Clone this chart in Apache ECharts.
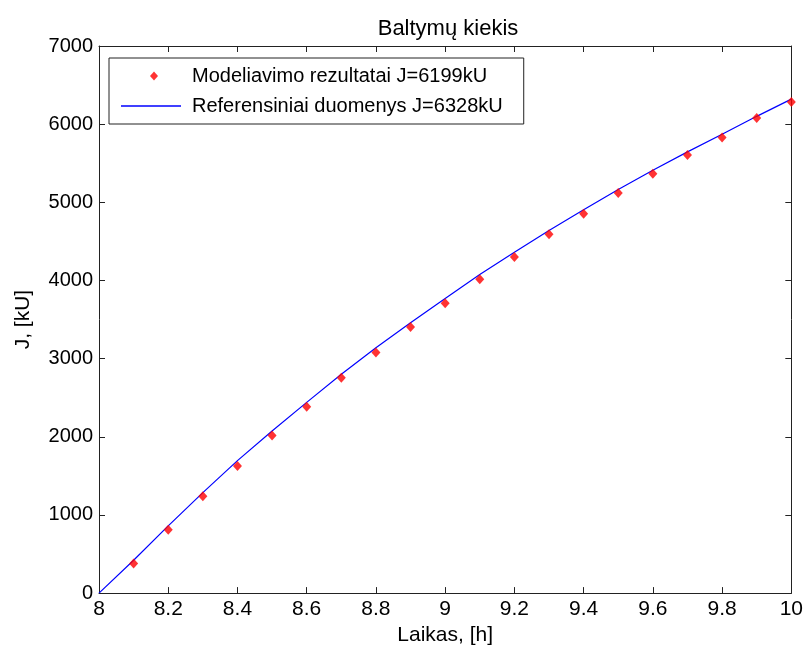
<!DOCTYPE html>
<html>
<head>
<meta charset="utf-8">
<script src="https://cdn.jsdelivr.net/npm/echarts@6/dist/echarts.min.js"></script>
<style>html,body{margin:0;padding:0;background:#fff}#c{width:806px;height:651px}</style>
</head>
<body>
<div id="c"></div>
<script>
// Data
const timeModel = [8.1, 8.2, 8.3, 8.4, 8.5, 8.6, 8.7, 8.8, 8.9, 9.0, 9.1, 9.2, 9.3, 9.4, 9.5, 9.6, 9.7, 9.8, 9.9, 10.0];
const modelValues = [380, 810, 1240, 1625, 2015, 2385, 2755, 3080, 3405, 3710, 4015, 4300, 4590, 4855, 5120, 5365, 5605, 5830, 6080, 6285];
const timeRef = [8.0, 8.1, 8.2, 8.3, 8.4, 8.5, 8.6, 8.7, 8.8, 8.9, 9.0, 9.1, 9.2, 9.3, 9.4, 9.5, 9.6, 9.7, 9.8, 9.9, 10.0];
const refValues = [0, 420, 860, 1285, 1695, 2075, 2440, 2800, 3140, 3460, 3770, 4075, 4360, 4640, 4905, 5165, 5410, 5645, 5870, 6100, 6320];
const xTicks = {min: 8, max: 10, interval: 0.2};
const yTicks = {min: 0, max: 7000, interval: 1000};
const nameModel = 'Modeliavimo rezultatai J=6199kU';
const nameRef = 'Referensiniai duomenys J=6328kU';

const font = 'Liberation Sans, Arial, sans-serif';
const fs = 21;
const chart = echarts.init(document.getElementById('c'), null, {renderer: 'canvas'});
const axisCommon = {
  axisLine: {show: true, onZero: false, lineStyle: {color: '#222', width: 1}},
  axisTick: {show: true, inside: true, length: 6, lineStyle: {color: '#222'}},
  splitLine: {show: false}
};
chart.setOption({
  animation: false,
  backgroundColor: '#fff',
  title: {
    text: 'Baltymų kiekis', left: 443, top: 13, textAlign: 'center',
    textStyle: {fontFamily: font, fontSize: 22, fontWeight: 'normal', color: '#000'}
  },
  grid: {left: 99, top: 46, right: 10, bottom: 56, containLabel: false},
  legend: {
    left: 109, top: 58, orient: 'vertical',
    backgroundColor: '#fff', borderColor: '#222', borderWidth: 1, borderRadius: 0,
    padding: [8, 21, 8, 12], itemGap: 10, itemWidth: 66, itemHeight: 9,
    symbolKeepAspect: true,
    textStyle: {fontFamily: font, fontSize: 20, color: '#000'},
    data: [
      {name: nameModel, icon: 'path://M4,0L8,4.5L4,9L0,4.5Z', itemStyle: {color: '#ff0000'}},
      {name: nameRef, icon: 'path://M0,0L60,0L60,1.3L0,1.3Z M66,0.6L66,0.6', itemStyle: {color: '#0000ff'}}
    ]
  },
  xAxis: [
    Object.assign({type: 'value', position: 'bottom', min: xTicks.min, max: xTicks.max, interval: xTicks.interval,
      name: 'Laikas, [h]', nameLocation: 'middle', nameGap: 27,
      nameTextStyle: {fontFamily: font, fontSize: fs, color: '#000'},
      axisLabel: {fontFamily: font, fontSize: fs, color: '#000', margin: 6,
        formatter: v => String(parseFloat(v.toFixed(1)))}}, axisCommon),
    Object.assign({type: 'value', position: 'top', min: xTicks.min, max: xTicks.max, interval: xTicks.interval,
      axisLabel: {show: false}}, axisCommon)
  ],
  yAxis: [
    Object.assign({type: 'value', position: 'left', min: yTicks.min, max: yTicks.max, interval: yTicks.interval,
      name: 'J, [kU]', nameLocation: 'middle', nameGap: 65,
      nameTextStyle: {fontFamily: font, fontSize: fs, color: '#000'},
      axisLabel: {fontFamily: font, fontSize: 20, color: '#000', margin: 6,
        formatter: v => String(v)}}, axisCommon),
    Object.assign({type: 'value', position: 'right', min: yTicks.min, max: yTicks.max, interval: yTicks.interval,
      axisLabel: {show: false}}, axisCommon)
  ],
  series: [
    {
      name: nameRef, type: 'line', xAxisIndex: 0, yAxisIndex: 0,
      data: timeRef.map((t, i) => [t, refValues[i]]),
      showSymbol: false, symbol: 'none',
      lineStyle: {color: '#0000ff', width: 1.2}, itemStyle: {color: '#0000ff'}, z: 2
    },
    {
      name: nameModel, type: 'scatter', xAxisIndex: 0, yAxisIndex: 0,
      data: timeModel.map((t, i) => [t, modelValues[i]]),
      symbol: 'diamond', symbolSize: [9, 10],
      itemStyle: {color: '#ff0000'}, z: 3
    }
  ]
});
</script>
</body>
</html>
